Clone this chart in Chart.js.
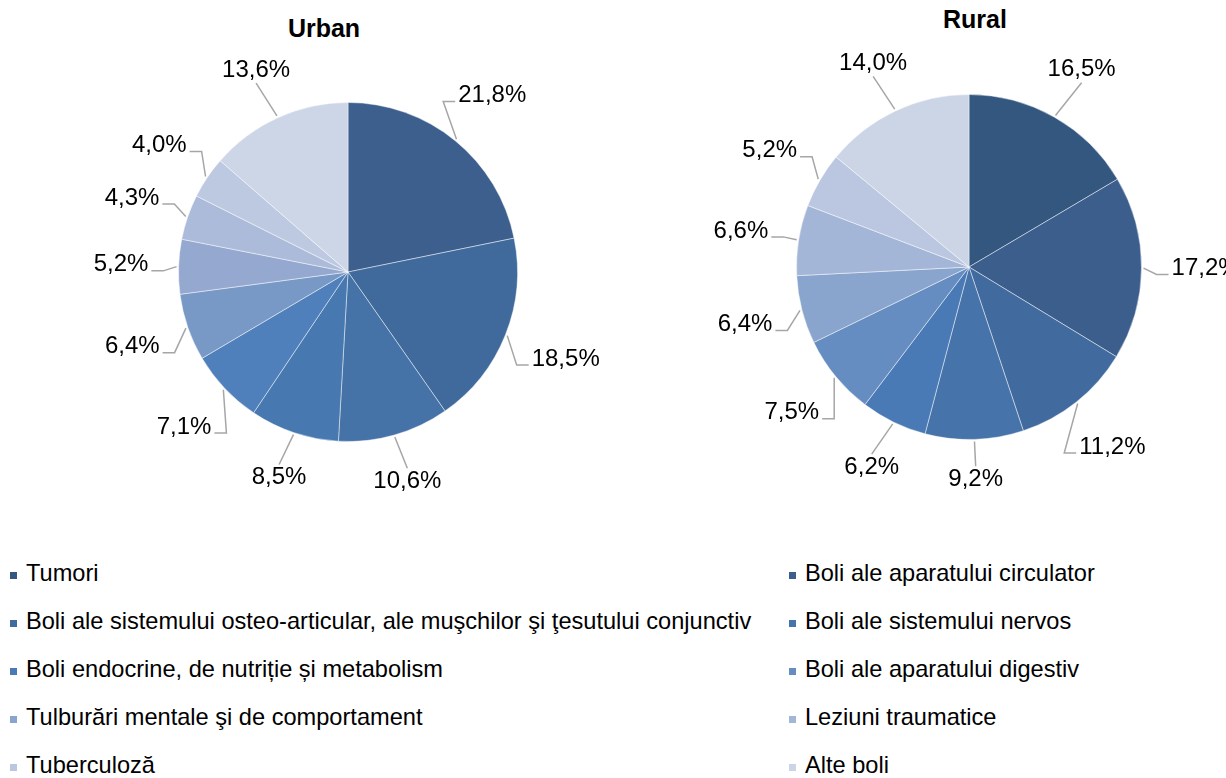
<!DOCTYPE html>
<html>
<head>
<meta charset="utf-8">
<title>Urban / Rural</title>
<script src="https://cdn.jsdelivr.net/npm/chart.js@4.4.1/dist/chart.umd.min.js"></script>
<style>
  html, body { margin: 0; padding: 0; background: #fff; overflow: hidden; }
  body { width: 1226px; height: 778px; position: relative; font-family: "Liberation Sans", Arial, sans-serif; color: #000; }
  canvas { position: absolute; top: 0; }
  #urban { left: 0; }
  #rural { left: 620px; }
  .title { position: absolute; width: 200px; text-align: center; font-size: 25px; font-weight: bold; line-height: 30px; }
  .item { position: absolute; font-size: 23.6px; line-height: 28px; white-space: nowrap; }
  .mark { position: absolute; width: 7px; height: 7px; }
</style>
</head>
<body>
<div class="title" style="left:224px; top:13px;">Urban</div>
<div class="title" style="left:875px; top:4px;">Rural</div>
<canvas id="urban" width="620" height="500"></canvas>
<canvas id="rural" width="606" height="500"></canvas>
<div id="legend"></div>
<script>
// Categories (same order for both pies and the legend)
const categories = [
  "Tumori",
  "Boli ale aparatului circulator",
  "Boli ale sistemului osteo-articular, ale muşchilor şi ţesutului conjunctiv",
  "Boli ale sistemului nervos",
  "Boli endocrine, de nutriție și metabolism",
  "Boli ale aparatului digestiv",
  "Tulburări mentale şi de comportament",
  "Leziuni traumatice",
  "Tuberculoză",
  "Alte boli"
];

// Shares, %
const urbanValues = [21.8, 18.5, 10.6, 8.5, 7.1, 6.4, 5.2, 4.3, 4.0, 13.6];
const ruralValues = [16.5, 17.2, 11.2, 9.2, 6.2, 7.5, 6.4, 6.6, 5.2, 14.0];

const urbanColors = ["#3c5f8e", "#406a9c", "#4572a7", "#4878b0", "#4f80bb",
                     "#7898c6", "#95a9d0", "#acbbd9", "#bdc9e1", "#cdd6e7"];
const ruralColors = ["#34577f", "#3b5e8d", "#416b9e", "#4673a9", "#4a7ab5",
                     "#668dc1", "#8aa5cd", "#a4b6d7", "#bbc7e0", "#ccd5e6"];

function fmt(v) {
  return v.toFixed(1).replace(".", ",") + "%";
}

// Draw the percentage labels outside the pie with grey leader lines
const pieLabels = {
  id: "pieLabels",
  afterDatasetsDraw(chart) {
    const ctx = chart.ctx;
    const meta = chart.getDatasetMeta(0);
    const values = chart.data.datasets[0].data;
    const gap = 30;
    const h = 18;
    ctx.save();
    ctx.font = '24px "Liberation Sans", Arial, sans-serif';
    ctx.textAlign = "center";
    ctx.textBaseline = "middle";
    ctx.strokeStyle = "#a6a6a6";
    ctx.lineWidth = 1.5;
    meta.data.forEach((arc, i) => {
      const p = arc.getProps(["x", "y", "startAngle", "endAngle", "outerRadius"], true);
      const mid = (p.startAngle + p.endAngle) / 2;
      const ux = Math.cos(mid), uy = Math.sin(mid);
      const text = fmt(values[i]);
      const w = ctx.measureText(text).width;
      const dist = p.outerRadius + gap + Math.abs(ux) * w / 2 + Math.abs(uy) * h / 2;
      const lx = p.x + ux * dist, ly = p.y + uy * dist;

      // leader line
      const ex = p.x + ux * (p.outerRadius + 2), ey = p.y + uy * (p.outerRadius + 2);
      ctx.beginPath();
      if (Math.abs(ux) >= 0.5) {
        const sx = Math.sign(ux);
        const ax = lx - sx * (w / 2 + 3), ay = ly + 6;
        const bx = ax - sx * 12;
        ctx.moveTo(ex, ey);
        ctx.lineTo(bx, ay);
        ctx.lineTo(ax, ay);
      } else {
        const sy = Math.sign(uy);
        const ax = lx, ay = ly - sy * (h / 2 + 4);
        if (Math.hypot(ax - ex, ay - ey) > 8) {
          ctx.moveTo(ex, ey);
          ctx.lineTo(ax, ay);
        }
      }
      ctx.stroke();

      ctx.fillStyle = "#000";
      ctx.fillText(text, lx, ly);
    });
    ctx.restore();
  }
};

function makePie(id, values, colors, padding) {
  return new Chart(document.getElementById(id), {
    type: "pie",
    data: {
      labels: categories,
      datasets: [{
        data: values,
        backgroundColor: colors,
        borderColor: "rgba(255,255,255,0.45)",
        borderWidth: 1
      }]
    },
    options: {
      responsive: false,
      animation: false,
      events: [],
      layout: { padding: padding },
      plugins: {
        legend: { display: false },
        title: { display: false },
        tooltip: { enabled: false }
      }
    },
    plugins: [pieLabels]
  });
}

makePie("urban", urbanValues, urbanColors, { left: 178, right: 102, top: 102, bottom: 58 });
makePie("rural", ruralValues, ruralColors, { left: 176, right: 84, top: 94, bottom: 60 });

// Shared legend, two columns, row by row
const legend = document.getElementById("legend");
categories.forEach((name, i) => {
  const col = i % 2, row = Math.floor(i / 2);
  const top = 559 + row * 48;
  const mark = document.createElement("span");
  mark.className = "mark";
  mark.style.left = (col ? 789 : 10) + "px";
  mark.style.top = (top + 13) + "px";
  mark.style.background = ruralColors[i];
  const item = document.createElement("div");
  item.className = "item";
  item.style.left = (col ? 805 : 26) + "px";
  item.style.top = top + "px";
  item.textContent = name;
  legend.appendChild(mark);
  legend.appendChild(item);
});
</script>
</body>
</html>
